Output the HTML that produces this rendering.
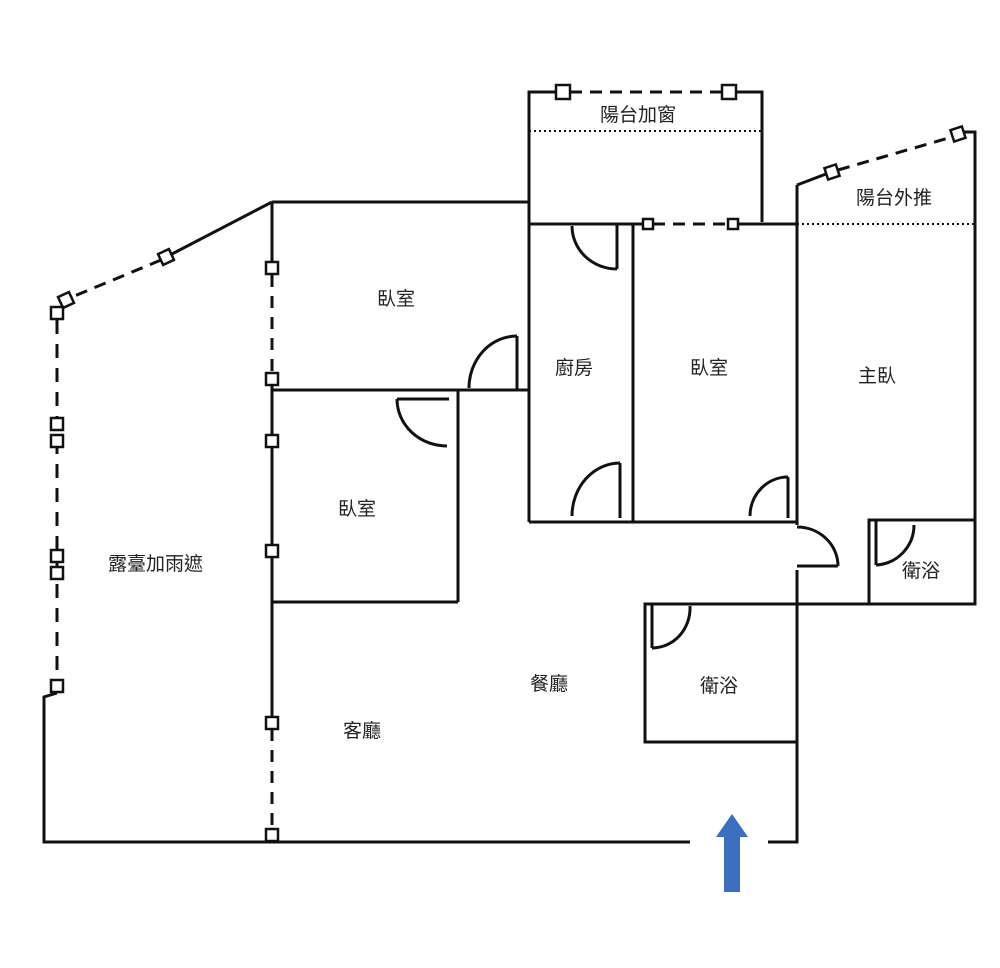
<!DOCTYPE html>
<html><head><meta charset="utf-8"><style>
html,body{margin:0;padding:0;background:#fff}
svg text{font-family:"Liberation Sans","Noto Sans CJK TC",sans-serif;font-size:19px;fill:#222}
</style></head><body>
<svg width="1000" height="963" viewBox="0 0 1000 963" xmlns="http://www.w3.org/2000/svg">
<g fill="none" stroke="#111" stroke-width="3">
<polyline points="529,222 529,92 556,92"/>
<line x1="570" y1="92" x2="722" y2="92" stroke-dasharray="12,8"/>
<polyline points="736,92 762,92 762,222"/>
<line x1="529" y1="131" x2="762" y2="131" stroke-width="2" stroke-dasharray="2,3"/>
<line x1="529" y1="224" x2="643" y2="224"/>
<line x1="653" y1="224" x2="728" y2="224" stroke-dasharray="12,8"/>
<line x1="738" y1="224" x2="797" y2="224"/>
<line x1="272" y1="202" x2="529" y2="202"/>
<line x1="529" y1="202" x2="529" y2="522"/>
<line x1="272" y1="202" x2="172" y2="254"/>
<line x1="161" y1="260" x2="72" y2="297" stroke-dasharray="12,8"/>
<line x1="57" y1="320" x2="57" y2="680" stroke-dasharray="14,10"/>
<polyline points="57,693 44,697 44,842 690,842"/>
<polyline points="768,842 797,842 797,570"/>
<line x1="797" y1="525" x2="797" y2="185"/>
<polyline points="797,185 826,174"/>
<line x1="838" y1="170" x2="952" y2="137" stroke-dasharray="12,8"/>
<polyline points="964,132 975,132 975,604 797,604"/>
<line x1="797" y1="224" x2="975" y2="224" stroke-width="2" stroke-dasharray="2,3"/>
<line x1="272" y1="202" x2="272" y2="262"/>
<line x1="272" y1="275" x2="272" y2="373" stroke-dasharray="12,9"/>
<line x1="272" y1="385" x2="272" y2="545"/>
<line x1="272" y1="558" x2="272" y2="717"/>
<line x1="272" y1="729" x2="272" y2="829" stroke-dasharray="12,9"/>
<!-- bedroom1 bottom -->
<line x1="272" y1="390" x2="529" y2="390"/>
<line x1="517" y1="336" x2="517" y2="390"/>
<path d="M469,388 A48,52 0 0 1 517,336"/>
<!-- bedroom2 -->
<line x1="458" y1="390" x2="458" y2="602"/>
<line x1="272" y1="602" x2="458" y2="602"/>
<line x1="397" y1="399" x2="449" y2="399"/>
<path d="M397,399 A50,47 0 0 0 447,446"/>
<!-- kitchen -->
<line x1="633" y1="224" x2="633" y2="522"/>
<line x1="529" y1="522" x2="797" y2="522"/>
<line x1="617" y1="224" x2="617" y2="269"/>
<path d="M572,226 A45,43 0 0 0 617,269"/>
<line x1="620" y1="463" x2="620" y2="518"/>
<path d="M572,516 A48,53 0 0 1 620,463"/>
<!-- bedroom3 door -->
<line x1="788" y1="477" x2="788" y2="518"/>
<path d="M750,516 A38,39 0 0 1 788,477"/>
<!-- door at 797 -->
<path d="M797,527 A41,39 0 0 1 838,566"/>
<line x1="797" y1="566" x2="838" y2="566"/>
<!-- small bath -->
<polyline points="869,604 869,520 975,520"/>
<line x1="876" y1="520" x2="876" y2="565"/>
<path d="M876,565 A40,40 0 0 0 914,525"/>
<!-- bath -->
<polyline points="797,604 645,604 645,742 797,742"/>
<line x1="652" y1="604" x2="652" y2="648"/>
<path d="M652,648 A38,40 0 0 0 690,606"/>
</g>
<g fill="#fff" stroke="#111" stroke-width="2.5">
<rect x="556" y="85" width="14" height="14"/>
<rect x="722" y="85" width="14" height="14"/>
<rect x="643" y="219" width="10" height="10"/>
<rect x="728" y="219" width="10" height="10"/>
<rect x="160" y="251" width="12" height="12" transform="rotate(-25 166 257)"/>
<rect x="60" y="294" width="12" height="12" transform="rotate(-25 66 300)"/>
<rect x="51" y="307" width="12" height="12"/>
<rect x="51" y="418" width="12" height="12"/>
<rect x="51" y="435" width="12" height="12"/>
<rect x="51" y="550" width="12" height="12"/>
<rect x="51" y="567" width="12" height="12"/>
<rect x="51" y="680" width="12" height="12"/>
<rect x="826" y="166" width="12" height="12" transform="rotate(-18 832 172)"/>
<rect x="952" y="128" width="12" height="12" transform="rotate(-18 958 134)"/>
<rect x="266" y="262" width="12" height="12"/>
<rect x="266" y="373" width="12" height="12"/>
<rect x="266" y="435" width="12" height="12"/>
<rect x="266" y="545" width="12" height="12"/>
<rect x="266" y="717" width="12" height="12"/>
<rect x="266" y="829" width="12" height="12"/>
</g>
<polygon points="732,814 748,837 740,837 740,892 724,892 724,837 716,837" fill="#3d6fc0"/>
<text x="600" y="121">陽台加窗</text>
<text x="856" y="204">陽台外推</text>
<text x="377" y="305">臥室</text>
<text x="555" y="374">廚房</text>
<text x="690" y="374">臥室</text>
<text x="858" y="382">主臥</text>
<text x="338" y="515">臥室</text>
<text x="108" y="570">露臺加雨遮</text>
<text x="902" y="577">衛浴</text>
<text x="530" y="690">餐廳</text>
<text x="700" y="692">衛浴</text>
<text x="343" y="737">客廳</text>
</svg>
</body></html>
